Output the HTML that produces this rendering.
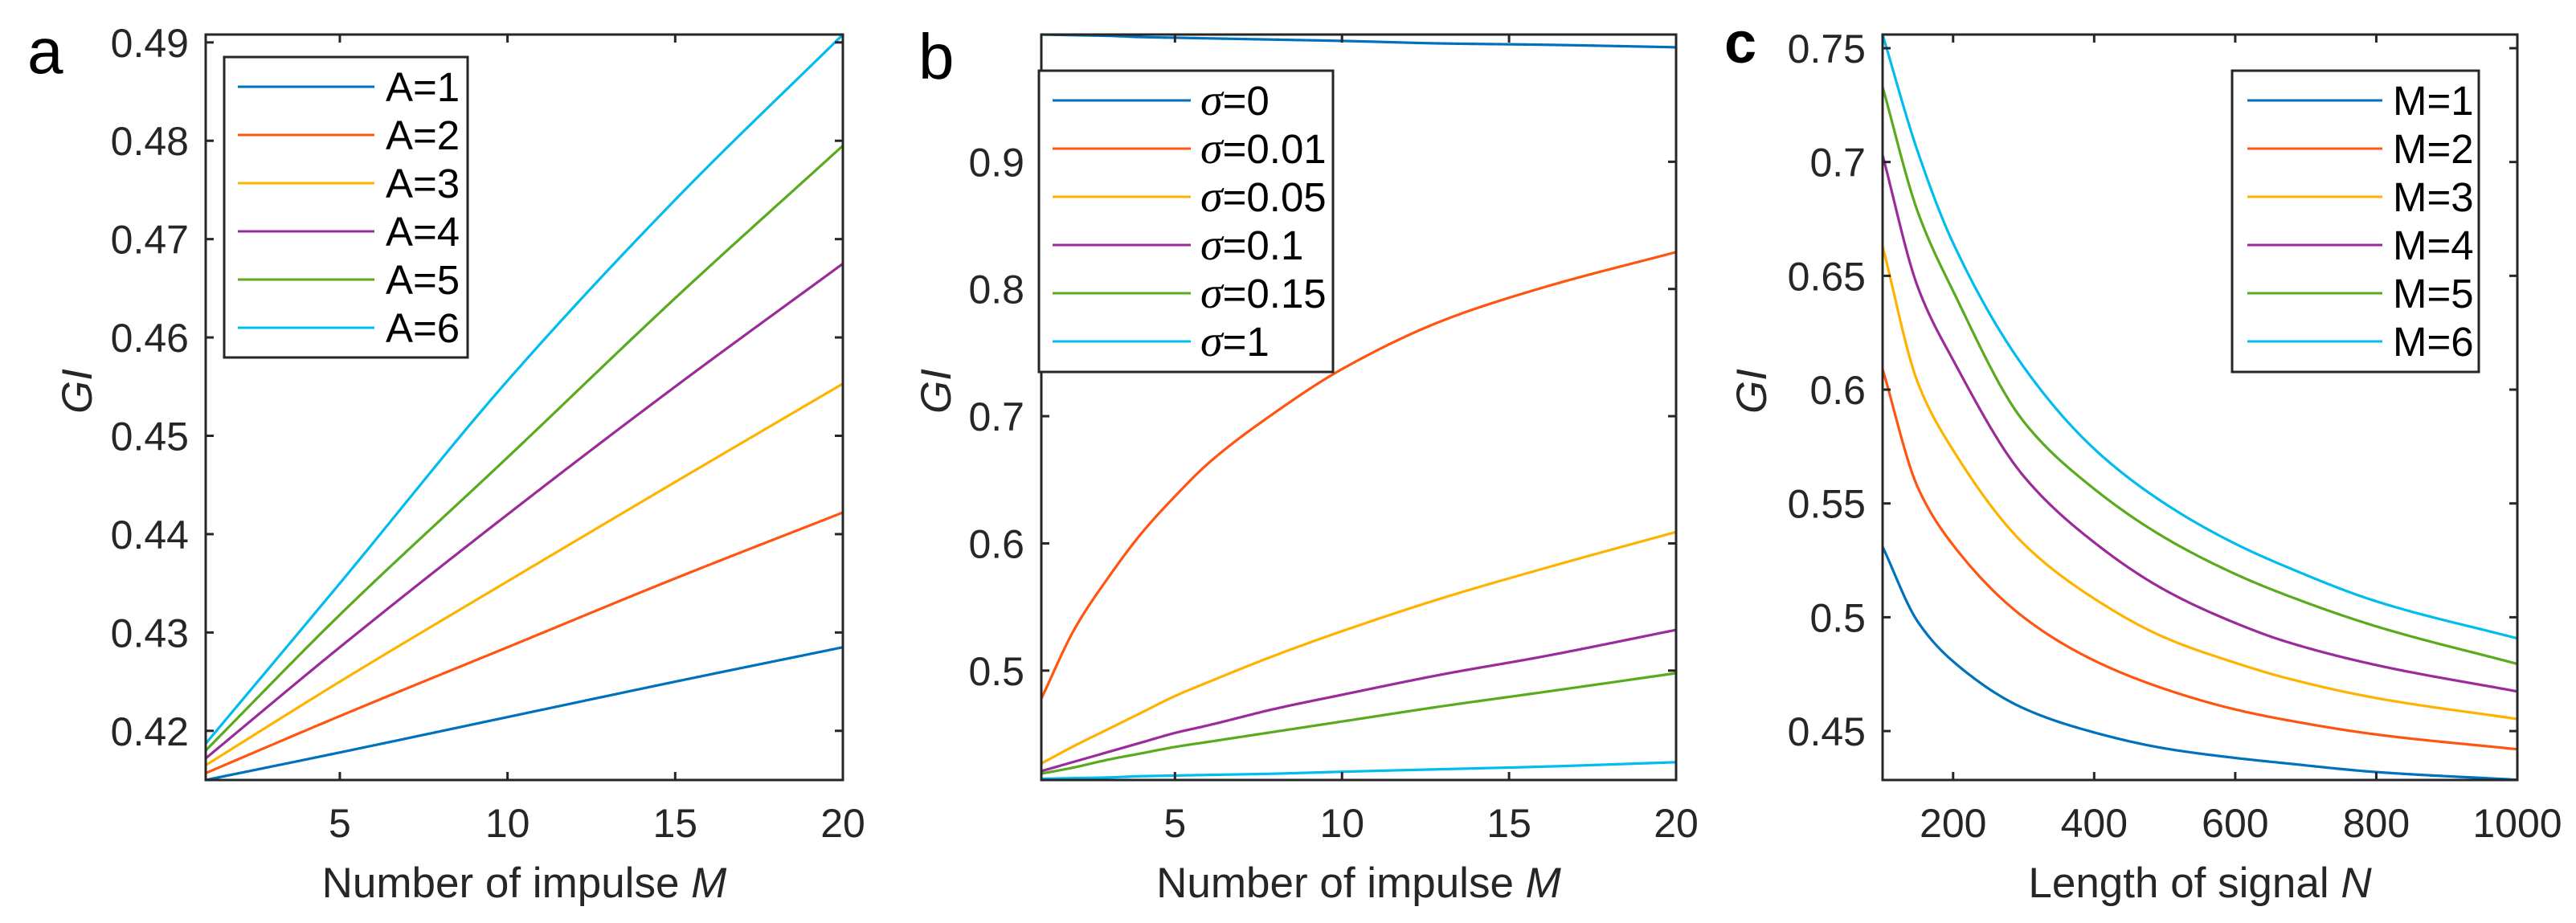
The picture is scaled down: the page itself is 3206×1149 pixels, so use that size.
<!DOCTYPE html>
<html><head><meta charset="utf-8"><style>
html,body{margin:0;padding:0;background:#fff;}
svg{display:block;font-family:"Liberation Sans",Arial,sans-serif;}
</style></head><body>
<svg id="fig" width="3206" height="1149" viewBox="0 0 3206 1149"></svg>
<script>
// ---- Panel a data ----
const aX = [1, 5, 10, 15, 20];
const aSeries1 = [0.4150, 0.4178, 0.4214, 0.4250, 0.4285];
const aSeries2 = [0.4157, 0.4215, 0.4285, 0.4355, 0.4422];
const aSeries3 = [0.4165, 0.4250, 0.4352, 0.4453, 0.4553];
const aSeries4 = [0.4172, 0.4285, 0.4420, 0.4550, 0.4675];
const aSeries5 = [0.4180, 0.4318, 0.4478, 0.4640, 0.4795];
const aSeries6 = [0.4187, 0.4350, 0.4556, 0.4740, 0.4908];
const aLabels = ["A=1","A=2","A=3","A=4","A=5","A=6"];
const aXTicks = [5, 10, 15, 20];
const aYTicks = [0.42, 0.43, 0.44, 0.45, 0.46, 0.47, 0.48, 0.49];
const aYTickLabels = ["0.42","0.43","0.44","0.45","0.46","0.47","0.48","0.49"];

// ---- Panel b data ----
const bX = [1, 2, 3, 4, 5, 6, 8, 10, 13, 16, 20];
const bSeries1 = [1.000, 0.9995, 0.999, 0.998, 0.9975, 0.997, 0.996, 0.995, 0.993, 0.992, 0.990];
const bSeries2 = [0.478, 0.533, 0.573, 0.608, 0.637, 0.663, 0.703, 0.737, 0.775, 0.801, 0.829];
const bSeries3 = [0.427, 0.441, 0.454, 0.467, 0.480, 0.491, 0.512, 0.531, 0.557, 0.580, 0.609];
const bSeries4 = [0.421, 0.4285, 0.436, 0.4435, 0.451, 0.457, 0.470, 0.481, 0.497, 0.511, 0.532];
const bSeries5 = [0.419, 0.424, 0.430, 0.435, 0.440, 0.444, 0.452, 0.460, 0.472, 0.483, 0.498];
const bSeries6 = [0.415, 0.4155, 0.416, 0.417, 0.4175, 0.418, 0.419, 0.4205, 0.4225, 0.4245, 0.428];
const bLabels = ["0","0.01","0.05","0.1","0.15","1"];
const bXTicks = [5, 10, 15, 20];
const bYTicks = [0.5, 0.6, 0.7, 0.8, 0.9];
const bYTickLabels = ["0.5","0.6","0.7","0.8","0.9"];

// ---- Panel c data ----
const cX = [100, 150, 200, 300, 400, 500, 600, 670, 800, 1000];
const cSeries1 = [0.531, 0.4980, 0.4806, 0.4600, 0.4494, 0.4424, 0.4382, 0.4359, 0.4320, 0.4286];
const cSeries2 = [0.609, 0.5570, 0.5317, 0.5000, 0.4810, 0.4685, 0.4595, 0.4550, 0.4485, 0.4420];
const cSeries3 = [0.663, 0.6030, 0.5734, 0.5323, 0.5082, 0.4911, 0.4800, 0.4735, 0.4645, 0.4553];
const cSeries4 = [0.703, 0.6450, 0.6130, 0.5620, 0.5329, 0.5120, 0.4975, 0.4895, 0.4790, 0.4674];
const cSeries5 = [0.733, 0.6780, 0.6433, 0.5860, 0.5564, 0.5350, 0.5190, 0.5100, 0.4960, 0.4795];
const cSeries6 = [0.756, 0.7044, 0.6644, 0.6100, 0.5740, 0.5500, 0.5323, 0.5225, 0.5070, 0.4907];
const cLabels = ["M=1","M=2","M=3","M=4","M=5","M=6"];
const cXTicks = [200, 400, 600, 800, 1000];
const cYTicks = [0.45, 0.5, 0.55, 0.6, 0.65, 0.7, 0.75];
const cYTickLabels = ["0.45","0.5","0.55","0.6","0.65","0.7","0.75"];

const COLORS = ["#0072BD","#FF5511","#FFB300","#9A2B98","#5AAA1E","#00BDEE"];
const NS = "http://www.w3.org/2000/svg";
const svg = document.getElementById('fig');
const INK = "#262626";

function mk(tag, attrs, parent){
  const e = document.createElementNS(NS, tag);
  for (const k in attrs) e.setAttribute(k, attrs[k]);
  (parent||svg).appendChild(e);
  return e;
}
function monoSample(xs, ys, n){
  const k = xs.length, d = [], m = new Array(k);
  for (let i=0;i<k-1;i++) d.push((ys[i+1]-ys[i])/(xs[i+1]-xs[i]));
  m[0]=d[0]; m[k-1]=d[k-2];
  for (let i=1;i<k-1;i++){
    if (d[i-1]*d[i]<=0) m[i]=0;
    else { const w1=2*(xs[i+1]-xs[i])+(xs[i]-xs[i-1]), w2=(xs[i+1]-xs[i])+2*(xs[i]-xs[i-1]);
      m[i]=(w1+w2)/(w1/d[i-1]+w2/d[i]); }
  }
  const out=[];
  for (let s=0;s<=n;s++){
    const x = xs[0]+(xs[k-1]-xs[0])*s/n;
    let i=0; while(i<k-2 && x>xs[i+1]) i++;
    const h=xs[i+1]-xs[i], t=(x-xs[i])/h;
    const h00=2*t*t*t-3*t*t+1,h10=t*t*t-2*t*t+t,h01=-2*t*t*t+3*t*t,h11=t*t*t-t*t;
    out.push([x, h00*ys[i]+h10*h*m[i]+h01*ys[i+1]+h11*h*m[i+1]]);
  }
  return out;
}

function panel(cfg){
  const g = mk('g', {});
  
  
  const L=cfg.L,R=cfg.R,T=43,B=971;
  const sx = v => L + (v-cfg.xmin)/(cfg.xmax-cfg.xmin)*(R-L);
  const sy = v => B - (v-cfg.ymin)/(cfg.ymax-cfg.ymin)*(B-T);

  const clip = mk('clipPath', {id: cfg.name+'-clip'}, g);
  mk('rect', {x:L, y:T-2, width:R-L+2, height:B-T+4}, clip);
  cfg.series.forEach((s,i)=>{
    const pts = monoSample(cfg.xs, s, 300).map(p=>sx(p[0]).toFixed(2)+","+sy(p[1]).toFixed(2));
    const p = mk('path', {d: "M"+pts.join(" L"), fill:'none', stroke:COLORS[i], 'stroke-width':3.2, 'stroke-linejoin':'round', 'clip-path':'url(#'+cfg.name+'-clip)'}, g);
    
    
  });

  const box = mk('rect', {x:L, y:T, width:R-L, height:B-T, fill:'none', stroke:INK, 'stroke-width':3}, g);
  
  

  cfg.xticks.forEach(v=>{
    const x = sx(v);
    mk('line', {x1:x, y1:B, x2:x, y2:B-10, stroke:INK, 'stroke-width':3}, g);
    mk('line', {x1:x, y1:T, x2:x, y2:T+10, stroke:INK, 'stroke-width':3}, g);
    const t = mk('text', {x:x, y:1042, 'font-size':50, fill:INK, 'text-anchor':'middle'}, g);
    t.textContent = String(v);
    
    
  });
  cfg.yticks.forEach((v,i)=>{
    const y = sy(v);
    mk('line', {x1:L, y1:y, x2:L+10, y2:y, stroke:INK, 'stroke-width':3}, g);
    mk('line', {x1:R, y1:y, x2:R-10, y2:y, stroke:INK, 'stroke-width':3}, g);
    const t = mk('text', {x:cfg.L-21, y:y+18, 'font-size':50, fill:INK, 'text-anchor':'end'}, g);
    t.textContent = cfg.yticklabels[i];
    
    
  });

  const xt = mk('text', {x:(L+R)/2, y:1117, 'font-size':53, fill:INK, 'text-anchor':'middle'}, g);
  xt.innerHTML = cfg.xlabel + ' <tspan font-style="italic">'+cfg.xvar+'</tspan>';
  
  
  const yt = mk('text', {x:0, y:0, 'font-size':53, fill:INK, 'text-anchor':'middle', 'font-style':'italic', transform:'translate('+(cfg.ylx+18)+',487) rotate(-90)'}, g);
  yt.textContent = 'GI';
  
  

  const pl = mk('text', {x:cfg.letterX, y:cfg.letterY, 'font-size':cfg.letterSize, fill:'#000', 'font-weight':cfg.letterWeight}, g);
  pl.textContent = cfg.letter;
  
  

  const lg = mk('g', {}, g);
  
  
  const lb = cfg.legend;
  mk('rect', {x:lb.x, y:lb.y, width:lb.w, height:lb.h, fill:'#fff', stroke:INK, 'stroke-width':3}, lg);
  cfg.labels.forEach((lab,i)=>{
    const y = lb.row0 + i*60;
    const ent = mk('g', {}, lg);
    
    
    mk('line', {x1:lb.l1, y1:y, x2:lb.l2, y2:y, stroke:COLORS[i], 'stroke-width':3}, ent);
    const t = mk('text', {x:lb.tx, y:y+18, 'font-size':51, fill:'#000'}, ent);
    if (cfg.sigma) {
      t.innerHTML = '<tspan font-family="Liberation Serif" font-style="italic" font-size="56">σ</tspan>=' + lab;
    } else t.textContent = lab;
  });
}

panel({name:'panel-a', L:256, R:1049, xmin:1, xmax:20, ymin:0.4150, ymax:0.4908,
  xs:aX, series:[aSeries1,aSeries2,aSeries3,aSeries4,aSeries5,aSeries6], labels:aLabels,
  xticks:aXTicks, yticks:aYTicks, yticklabels:aYTickLabels,
  xlabel:'Number of impulse', xvar:'M', ylx:96,
  letter:'a', letterX:34, letterY:91, letterSize:80, letterWeight:'normal',
  legend:{x:279,y:71,w:303,h:374,row0:108,l1:296,l2:466,tx:480}});

panel({name:'panel-b', L:1296, R:2086, xmin:1, xmax:20, ymin:0.414, ymax:1.0,
  xs:bX, series:[bSeries1,bSeries2,bSeries3,bSeries4,bSeries5,bSeries6], labels:bLabels, sigma:true,
  xticks:bXTicks, yticks:bYTicks, yticklabels:bYTickLabels,
  xlabel:'Number of impulse', xvar:'M', ylx:1165,
  letter:'b', letterX:1143, letterY:98, letterSize:80, letterWeight:'normal',
  legend:{x:1293,y:88,w:366,h:375,row0:125,l1:1310,l2:1482,tx:1494}});

panel({name:'panel-c', L:2343, R:3133, xmin:100, xmax:1000, ymin:0.4285, ymax:0.756,
  xs:cX, series:[cSeries1,cSeries2,cSeries3,cSeries4,cSeries5,cSeries6], labels:cLabels,
  xticks:cXTicks, yticks:cYTicks, yticklabels:cYTickLabels,
  xlabel:'Length of signal', xvar:'N', ylx:2180,
  letter:'c', letterX:2146, letterY:78, letterSize:72, letterWeight:'bold',
  legend:{x:2778,y:88,w:307,h:375,row0:125,l1:2797,l2:2965,tx:2978}});
</script>
</body></html>
